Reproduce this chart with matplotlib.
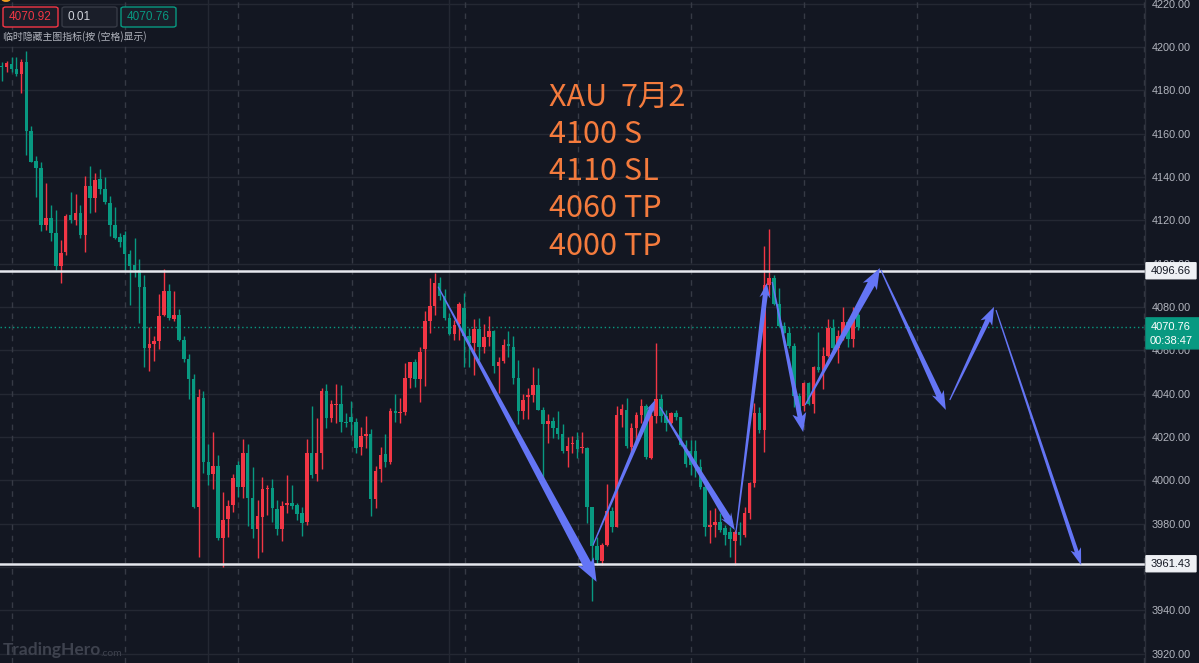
import numpy as np
import matplotlib
matplotlib.use("Agg")
import matplotlib.pyplot as plt
from matplotlib.patches import Polygon, FancyBboxPatch

# OHLC (red = up, green = down)
opens = [4191.2, 4190.9, 4192.0, 4189.6, 4187.6, 4193.0, 4161.3, 4147.4, 4144.0, 4118.0,
         4121.2, 4114.3, 4098.9, 4105.3, 4122.5, 4119.9, 4123.3, 4113.2, 4135.7, 4130.3,
         4139.0, 4134.2, 4127.9, 4117.7, 4112.1, 4113.1, 4104.5, 4099.1, 4097.0, 4089.0,
         4061.0, 4062.8, 4064.4, 4076.1, 4087.1, 4074.5, 4076.3, 4064.7, 4056.1, 4046.7,
         3987.8, 4038.1, 4008.2, 4002.7, 4006.7, 3973.1, 3982.1, 3988.5, 4007.0, 3996.7,
         4012.7, 3991.9, 3977.3, 3983.1, 3995.9, 3996.2, 3986.5, 3977.4, 3988.7, 3989.5,
         3988.5, 3985.0, 3980.8, 4012.7, 4002.7, 4012.4, 4041.1, 4028.8, 4034.6, 4035.0,
         4027.0, 4029.3, 4026.7, 4015.1, 4020.6, 4021.3, 3991.1, 4005.0, 4012.1, 4008.5,
         4032.1, 4030.8, 4031.3, 4047.3, 4054.7, 4046.7, 4060.4, 4073.4, 4080.5, 4090.8,
         4085.0, 4075.0, 4067.4, 4071.9, 4079.3, 4066.5, 4063.1, 4069.6, 4061.6, 4066.2,
         4068.8, 4052.7, 4055.1, 4062.7, 4061.3, 4047.3, 4032.1, 4038.3, 4039.3, 4043.8,
         4032.4, 4025.9, 4027.3, 4024.2, 4021.3, 4013.4, 4016.8, 4018.5, 4014.7, 4015.0,
         3987.8, 3969.8, 3962.8, 3970.1, 3985.9, 3978.5, 4030.1, 4032.4, 4015.4, 4024.2,
         4030.1, 4034.2, 4010.1, 4029.6, 4037.3, 4029.6, 4026.3, 4031.2, 4029.0, 4016.3,
         4013.6, 4013.6, 4005.9, 3997.0, 3978.6, 3979.3, 3980.9, 3977.8, 3976.3, 3972.1,
         3976.3, 3974.7, 3984.7, 3998.6, 4030.9, 4023.2, 4090.1, 4093.2, 4081.3, 4071.2,
         4068.1, 4061.9, 4038.9, 4034.3, 4045.0, 4035.2, 4052.4, 4050.6, 4057.3, 4070.1,
         4060.9, 4066.6, 4073.2, 4065.0, 4076.3]
highs = [4193.0, 4193.6, 4195.2, 4195.2, 4194.6, 4197.9, 4163.4, 4149.5, 4147.0, 4137.1,
         4126.8, 4124.7, 4110.8, 4122.8, 4133.1, 4132.0, 4127.2, 4140.6, 4145.0, 4141.7,
         4143.8, 4139.8, 4131.1, 4126.0, 4114.0, 4115.1, 4106.1, 4112.0, 4102.1, 4094.9,
         4070.7, 4066.7, 4086.1, 4097.3, 4090.6, 4087.4, 4079.0, 4066.6, 4058.3, 4048.8,
         4041.9, 4041.1, 4016.6, 4022.4, 4011.6, 3994.4, 3990.8, 4002.8, 4008.8, 4018.8,
         4016.5, 4005.9, 3990.8, 4001.3, 3997.8, 4000.4, 3990.8, 3990.5, 4002.4, 3997.8,
         3989.3, 3987.8, 4019.0, 4034.2, 4028.5, 4042.7, 4044.2, 4037.0, 4044.2, 4043.9,
         4030.8, 4036.7, 4028.5, 4024.7, 4029.6, 4023.4, 4006.7, 4015.1, 4021.3, 4033.1,
         4039.6, 4037.8, 4054.2, 4054.7, 4055.8, 4061.3, 4078.1, 4093.1, 4095.4, 4093.9,
         4088.1, 4077.0, 4073.9, 4082.4, 4086.5, 4070.1, 4074.2, 4074.7, 4072.1, 4075.7,
         4069.3, 4057.0, 4065.0, 4068.8, 4066.5, 4055.4, 4039.6, 4042.4, 4052.4, 4051.6,
         4033.9, 4030.5, 4029.3, 4032.1, 4025.8, 4019.8, 4020.4, 4022.4, 4022.4, 4015.4,
         3987.8, 3973.9, 3971.1, 3998.1, 3987.8, 4034.4, 4035.1, 4037.8, 4026.5, 4031.6,
         4037.4, 4035.1, 4030.9, 4063.2, 4039.8, 4032.4, 4031.6, 4032.4, 4029.3, 4018.6,
         4018.6, 4018.6, 4009.6, 3998.6, 3986.2, 3987.0, 3984.7, 3979.3, 3978.6, 3977.0,
         3980.9, 3987.5, 3999.3, 4035.5, 4033.9, 4108.1, 4115.8, 4094.7, 4088.6, 4073.2,
         4070.9, 4063.2, 4040.1, 4045.5, 4045.5, 4052.9, 4068.6, 4061.6, 4074.3, 4074.3,
         4069.3, 4079.8, 4074.3, 4079.8, 4077.0]
lows = [4184.4, 4188.5, 4188.5, 4186.6, 4178.5, 4150.1, 4147.0, 4130.7, 4115.1, 4115.6,
        4110.5, 4096.8, 4091.0, 4104.1, 4118.8, 4118.0, 4111.6, 4105.3, 4123.1, 4123.9,
        4131.9, 4127.5, 4112.7, 4111.2, 4107.7, 4096.8, 4080.9, 4093.6, 4072.6, 4052.3,
        4050.4, 4054.8, 4060.7, 4075.8, 4073.8, 4073.4, 4064.4, 4054.5, 4037.6, 3987.0,
        3964.4, 4003.4, 3997.8, 3995.9, 3972.5, 3959.8, 3973.9, 3985.1, 3992.4, 3991.6,
        3979.0, 3973.1, 3964.2, 3966.7, 3983.9, 3980.8, 3974.7, 3972.1, 3984.7, 3986.5,
        3981.6, 3974.2, 3979.3, 4000.8, 3999.8, 4005.1, 4023.9, 4027.0, 4026.2, 4022.4,
        4024.7, 4020.8, 4012.7, 4011.6, 4014.7, 3983.6, 3987.0, 3999.3, 4006.2, 4007.3,
        4027.0, 4026.2, 4030.1, 4042.7, 4042.8, 4036.2, 4043.6, 4068.1, 4076.2, 4083.1,
        4073.9, 4067.0, 4064.7, 4064.7, 4052.4, 4052.4, 4048.5, 4055.4, 4058.5, 4061.9,
        4049.3, 4040.1, 4053.9, 4057.0, 4044.4, 4025.9, 4028.1, 4028.1, 4036.2, 4032.4,
        4000.8, 4017.0, 4019.3, 4018.8, 4012.4, 4005.9, 4012.4, 4010.1, 4012.4, 3980.1,
        3944.4, 3960.8, 3960.8, 3969.6, 3975.9, 3978.5, 4024.4, 4014.7, 4012.7, 4018.5,
        4026.2, 4009.6, 4009.6, 4026.3, 4027.0, 4022.9, 4025.9, 4027.8, 4015.8, 4006.3,
        4002.4, 4001.5, 3995.8, 3974.3, 3970.9, 3973.9, 3976.3, 3970.1, 3964.7, 3960.9,
        3970.1, 3973.9, 3982.0, 3997.0, 4021.6, 4013.2, 4085.5, 4080.9, 4070.6, 4067.8,
        4060.9, 4033.9, 4031.6, 4032.1, 4034.6, 4031.2, 4050.1, 4041.9, 4056.7, 4059.3,
        4053.9, 4064.7, 4061.6, 4061.6, 4069.3]
closes = [4190.8, 4192.5, 4189.8, 4187.6, 4193.0, 4161.3, 4147.0, 4144.0, 4118.0, 4120.9,
          4114.3, 4098.9, 4105.0, 4122.0, 4119.9, 4123.3, 4113.2, 4135.7, 4130.3, 4138.5,
          4134.2, 4128.3, 4117.7, 4111.8, 4109.7, 4104.5, 4098.9, 4097.0, 4089.0, 4061.0,
          4062.8, 4064.4, 4075.8, 4087.1, 4075.0, 4076.3, 4064.7, 4055.8, 4046.7, 3987.8,
          4038.4, 4008.2, 4002.6, 4006.7, 3973.1, 3981.6, 3988.2, 4000.8, 3996.7, 4012.7,
          3991.9, 3977.3, 3983.4, 3995.9, 3996.5, 3987.0, 3977.4, 3988.1, 3989.5, 3988.2,
          3984.4, 3980.4, 4012.7, 4002.4, 4012.4, 4041.1, 4028.8, 4035.0, 4035.0, 4027.0,
          4026.5, 4026.7, 4014.7, 4020.5, 4021.1, 3991.1, 4004.4, 4011.4, 4008.5, 4032.1,
          4031.1, 4031.3, 4047.3, 4054.7, 4046.5, 4059.0, 4073.4, 4080.5, 4090.8, 4085.0,
          4075.0, 4067.4, 4071.6, 4081.3, 4066.5, 4063.5, 4069.6, 4061.6, 4066.2, 4068.8,
          4052.7, 4054.7, 4062.4, 4061.9, 4047.3, 4032.1, 4037.0, 4039.3, 4043.8, 4032.4,
          4025.9, 4027.3, 4024.2, 4021.3, 4013.4, 4015.9, 4017.2, 4014.4, 4015.2, 3987.8,
          3969.8, 3963.1, 3970.1, 3985.9, 3978.5, 4030.1, 4032.7, 4015.8, 4023.9, 4030.1,
          4034.2, 4010.8, 4029.6, 4037.3, 4029.6, 4026.3, 4031.2, 4029.0, 4016.3, 4007.5,
          4007.0, 4005.9, 3997.0, 3978.6, 3979.3, 3980.9, 3977.0, 3974.7, 3972.7, 3976.3,
          3974.7, 3984.7, 3998.6, 4030.9, 4023.2, 4090.1, 4093.2, 4081.3, 4071.2, 4068.1,
          4061.9, 4038.9, 4032.7, 4045.0, 4035.2, 4052.4, 4050.9, 4057.3, 4070.1, 4060.9,
          4066.6, 4073.2, 4065.0, 4076.3, 4070.76]

resistance = 4096.66
support = 3961.43
last_price = 4070.76
bid_price = 4070.92
spread = "0.01"
countdown = "00:38:47"
price_ticks = list(range(3920, 4221, 20))
note_lines = ["XAU  7月2", "4100 S", "4110 SL", "4060 TP", "4000 TP"]
hint_text = "临时隐藏主图指标(按 (空格)显示)"

# hand-drawn arrows: (bar index, price) start -> tip
arrow_x0 = [88.7, 120.2, 133.8, 149.2, 156.6, 163.3, 178.7, 192.7, 202.1]
arrow_y0 = [4089.3, 3970.1, 4033.8, 3975.2, 4091.5, 4034.7, 4097.0, 4037.0, 4078.5]
arrow_x1 = [120.9, 132.8, 149.0, 155.5, 162.9, 178.5, 191.9, 201.7, 219.4]
arrow_y1 = [3953.1, 4037.0, 3977.0, 4091.0, 4022.2, 4097.9, 4032.4, 4080.0, 3960.8]
# shaft end width, head width, head length (px)
arrow_style = [(9, 18, 20), (5, 9, 10), (7, 12, 14), (5, 11, 12), (5, 14, 16),
               (8, 16, 18), (6, 13, 16), (5, 13, 15), (4, 11, 14)]

W, H = 1199, 663
BG = "#131722"
UP = "#f23645"
DOWN = "#089981"
ARROW = "#6475f5"
CJK = ["Noto Sans CJK SC", "DejaVu Sans"]

fig = plt.figure(figsize=(W / 100, H / 100), dpi=100, facecolor=BG)
ax = fig.add_axes([0, 0, 1145 / W, 1])
ax.set_facecolor(BG)

x = np.arange(len(opens))
o = np.array(opens)
c = np.array(closes)
hi = np.array(highs)
lo = np.array(lows)
cols = np.where(c >= o, UP, DOWN)

ax.set_xlim(-1.7 / 4.92, (1145 - 1.7) / 4.92)
ax.set_ylim(4220 - 659.5 / 2.1667, 4220 + 3.5 / 2.1667)

# grid
for p in price_ticks:
    ax.axhline(p, color="#242833", lw=1, zorder=0)
for k in range(11):
    ax.axvline(2.1 + 23 * k, color="#363a45", lw=1, ls=(0, (4, 4)), zorder=0)
for gx in [42, 91]:
    ax.axvline(gx, color="#242833", lw=1, zorder=0)

# candles
ax.vlines(x, lo, hi, colors=cols, lw=1, zorder=2)
body = np.maximum(np.abs(c - o), 0.5)
ax.bar(x, body, bottom=np.minimum(o, c), width=0.72, color=cols, lw=0, zorder=3)

# levels
ax.axhline(resistance, color="#e6e8ee", lw=1.8, zorder=4)
ax.axhline(support, color="#e6e8ee", lw=1.8, zorder=4)
ax.axhline(last_price, color=DOWN, lw=1, ls=(0, (1, 2)), zorder=1)

# arrows
fig.canvas.draw()
inv = ax.transData.inverted()
for i in range(len(arrow_x0)):
    s = ax.transData.transform((arrow_x0[i], arrow_y0[i]))
    e = ax.transData.transform((arrow_x1[i], arrow_y1[i]))
    w1, hw, hl = arrow_style[i]
    d = e - s
    u = d / np.hypot(*d)
    n = np.array([-u[1], u[0]])
    b = e - u * hl
    pts = [s + n * 0.6, b + n * w1 / 2, b - u * 3 + n * hw / 2, e,
           b - u * 3 - n * hw / 2, b - n * w1 / 2, s - n * 0.6]
    ax.add_patch(Polygon(inv.transform(pts), closed=True, color=ARROW, lw=0, zorder=6))

# trade note
for i, line in enumerate(note_lines):
    fig.text(549 / W, 1 - (97 + 37.3 * i) / H, line, color="#f47b3d", fontsize=22,
             family=CJK, va="center", ha="left")

# right price scale
ax.spines[:].set_visible(False)
ax.tick_params(axis="x", bottom=False, labelbottom=False)
ax.yaxis.tick_right()
shown = [p for p in price_ticks if abs(p - support) > 5]
ax.set_yticks(shown)
ax.set_yticklabels([f"{p:.2f}" for p in shown])
ax.tick_params(axis="y", length=0, pad=5, labelsize=7.8, labelcolor="#b2b5be")
for t in ax.get_yticklabels():
    t.set_family("Liberation Sans")
fig.add_artist(plt.Line2D([1145 / W, 1145 / W], [0, 1], color="#2a2e39", lw=1))


def fpx(px, py):
    return px / W, 1 - py / H


def box(x0, y0, w, h, face, edge, rs=0):
    fig.add_artist(FancyBboxPatch(fpx(x0, y0 + h), w / W, h / H,
                                  boxstyle=f"round,pad=0,rounding_size={rs / W}",
                                  fc=face, ec=edge, lw=1, transform=fig.transFigure,
                                  zorder=10))


for lvl in [resistance, support]:
    py = 3.5 + (4220 - lvl) * 2.1667
    box(1146, py - 8, 50, 16, "#eef0f4", "#eef0f4")
    fig.text(*fpx(1171, py), f"{lvl:.2f}", color="#131722", fontsize=8,
             family="Liberation Sans", ha="center", va="center", zorder=11)
py = 3.5 + (4220 - last_price) * 2.1667
box(1146, py - 9, 53, 31, DOWN, DOWN)
fig.text(*fpx(1171, py), f"{last_price:.2f}", color="white", fontsize=8,
         family="Liberation Sans", ha="center", va="center", zorder=11)
fig.text(*fpx(1171, py + 14), countdown, color="white", fontsize=8,
         family="Liberation Sans", ha="center", va="center", zorder=11)

# top-left quote boxes
box(3, 7, 55, 20, "#1a1e29", UP, 3)
fig.text(*fpx(30.5, 17), f"{bid_price:.2f}", color=UP, fontsize=8.5,
         family="Liberation Sans", ha="center", va="center", zorder=11)
box(62, 7, 55, 20, "#1a1e29", "#363a45", 3)
fig.text(*fpx(68, 17), spread, color="#d1d4dc", fontsize=8.5,
         family="Liberation Sans", ha="left", va="center", zorder=11)
box(121, 7, 55, 20, "#1a1e29", DOWN, 3)
fig.text(*fpx(148.5, 17), f"{last_price:.2f}", color=DOWN, fontsize=8.5,
         family="Liberation Sans", ha="center", va="center", zorder=11)
fig.text(*fpx(3, 37), hint_text, color="#b2b5be", fontsize=7.1,
         family=CJK, ha="left", va="center", zorder=11)
fig.add_artist(plt.Circle(fpx(6, -1), 4 / W, color="#f0a020", transform=fig.transFigure))

# watermark
fig.text(*fpx(3, 650), "TradingHero", color="#3e424e", fontsize=12.5, weight="bold",
         family="Lato", ha="left", va="center")
fig.text(*fpx(100, 653), ".com", color="#3e424e", fontsize=7.5,
         family="Lato", ha="left", va="center")

fig.savefig("out.png", dpi=100, facecolor=BG)
